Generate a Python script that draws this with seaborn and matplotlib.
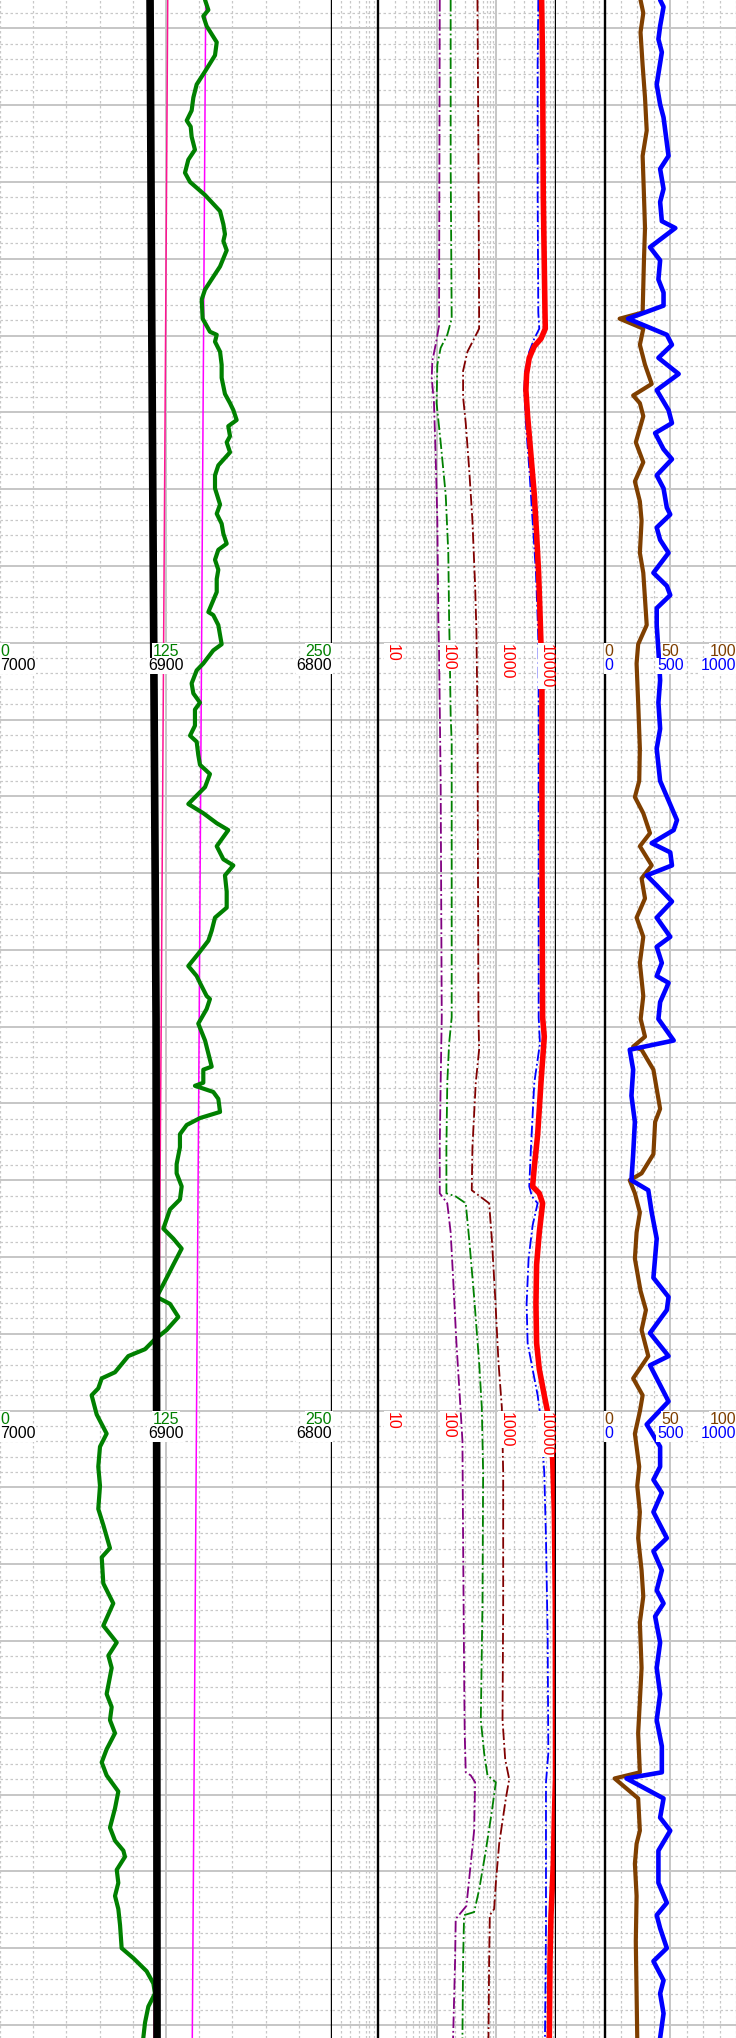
import matplotlib
matplotlib.use("Agg")
import matplotlib.pyplot as plt
import seaborn as sns
from matplotlib.ticker import MultipleLocator, FixedLocator, LogLocator, NullFormatter

sns.set_style("white")
plt.rcParams['font.family'] = ['Liberation Sans', 'DejaVu Sans']

# ---------------- depth window ----------------
DEPTH_TOP, DEPTH_BOT = 1006.3, 1271.7
SCALE_DEPTHS = [1090, 1190]

# ---------------- track 1 : GR (0-250), black curve (7000-6800), pink trends ----------------
gr = [(1006.3,154.4),(1007.6,156.9),(1008.4,153.1),(1009.7,155.6),(1011.8,163.2),(1013.5,161.9),(1015.6,154.4),
      (1017.3,148.1),(1019.0,145.6),(1020.7,144.3),(1022.0,140.6),(1022.8,143.6),(1024.1,144.3),(1025.8,146.8),
      (1027.1,141.8),(1028.8,139.3),(1030.0,143.1),(1031.7,154.4),(1033.8,165.7),(1035.5,168.2),(1036.8,169.4),
      (1037.7,168.2),(1038.9,170.7),(1041.0,165.7),(1044.0,154.4),(1045.3,151.9),(1047.8,152.6),(1049.5,158.1),
      (1049.9,163.2),(1050.8,161.9),(1052.1,165.7),(1053.8,166.9),(1055.5,166.9),(1057.6,169.4),(1058.8,173.2),
      (1059.7,175.7),(1061.0,178.2),(1061.8,171.9),(1063.1,173.2),(1063.9,170.7),(1065.2,173.2),(1066.9,164.4),
      (1068.2,161.9),(1069.9,161.9),(1072.0,165.7),(1073.2,163.2),(1074.5,166.9),(1075.8,168.2),(1077.1,170.7),
      (1077.9,164.4),(1079.2,161.9),(1080.5,164.4),(1081.7,163.2),(1083.4,163.2),(1086.0,156.9),(1086.4,160.6),
      (1087.7,164.4),(1090.2,166.9),(1091.0,160.6),(1092.7,153.1),(1093.6,148.1),(1095.3,144.3),(1096.6,145.6),
      (1097.8,150.6),(1098.7,146.8),(1100.8,146.8),(1102.1,143.1),(1102.9,148.1),(1104.6,149.3),(1105.9,150.6),
      (1107.1,158.1),(1108.8,154.4),(1111.0,141.8),(1112.2,153.1),(1113.5,163.2),(1114.4,171.9),(1116.5,163.2),
      (1118.2,168.2),(1119.0,175.7),(1120.3,169.4),(1122.4,170.7),(1124.5,170.7),(1125.8,161.9),(1127.5,159.4),
      (1128.8,156.9),(1130.5,149.3),(1132.1,141.8),(1133.4,148.1),(1134.3,150.6),(1136.0,155.6),(1136.4,158.1),
      (1137.7,155.6),(1139.2,150.6),(1139.6,149.3),(1141.8,154.4),(1143.5,156.9),(1145.2,159.4),(1145.6,153.1),
      (1147.3,153.1),(1147.7,146.8),(1148.5,160.6),(1149.4,164.4),(1151.1,165.7),(1151.9,150.6),(1152.8,140.6),
      (1154.0,135.5),(1155.7,135.5),(1157.9,133.0),(1159.1,133.0),(1160.8,136.8),(1162.5,135.5),(1163.8,128.0),
      (1166.3,123.0),(1167.6,130.5),(1168.9,136.8),(1171.0,130.5),(1172.7,125.5),(1175.2,118.0),(1176.1,128.0),
      (1177.8,134.3),(1179.5,125.5),(1180.7,116.7),(1182.0,109.2),(1182.9,96.6),(1185.0,86.6),(1185.8,76.6),
      (1187.1,74.0),(1188.0,69.0),(1190.5,72.8),(1193.0,80.3),(1194.7,75.3),(1197.3,74.0),(1199.8,75.3),
      (1202.8,74.0),(1204.9,77.8),(1207.9,82.8),(1209.1,76.6),(1212.5,77.8),(1215.1,85.3),(1218.0,77.8),
      (1220.2,87.9),(1221.9,81.6),(1223.5,84.1),(1226.9,80.3),(1228.6,84.1),(1230.3,82.8),(1232.0,86.6),
      (1234.1,80.3),(1235.8,76.6),(1237.5,80.3),(1239.6,89.1),(1241.8,86.6),(1244.3,82.8),(1246.0,86.6),
      (1247.3,92.9),(1248.1,94.1),(1249.8,87.9),(1251.5,89.1),(1253.2,86.6),(1254.9,89.1),(1257.0,90.4),
      (1260.0,91.6),(1261.3,100.4),(1263.0,110.4),(1264.6,115.5),(1265.9,116.7),(1267.6,111.7),(1269.7,109.2),
      (1271.7,107.9)]
black_curve = [(1006.3,6909.6),(1048.0,6908.6),(1090.0,6907.4),(1139.0,6906.0),(1200.0,6905.6),(1271.7,6905.4)]
pink_curve = [(1006.3,126.3),(1139.0,121.4),(1271.7,116.0)]
magenta_curve = [(1006.3,154.9),(1139.0,150.0),(1271.7,144.8)]

# ---------------- track 2 : resistivities (log 10-10000) ----------------
res_deep = [(1006.3,5840),(1014.8,6070),(1031.7,6220),(1047.0,6650),(1049.1,6730),(1050.4,5690),(1051.4,4390),
            (1052.9,3610),(1055.0,3260),(1057.1,3170),(1060.5,3390),(1065.6,3860),(1070.7,4390),(1075.8,4800),
            (1080.9,5190),(1086.0,5470),(1090.2,5690),(1095.3,5910),(1116.5,5910),(1138.8,6070),(1141.3,6470),
            (1147.3,5690),(1154.1,5000),(1158.3,4390),(1160.8,4110),(1161.7,5330),(1163.0,6070),(1166.8,5330),
            (1171.0,4800),(1176.1,4680),(1181.2,4800),(1184.6,5330),(1188.0,6470),(1191.3,7870),(1196.4,8960),
            (1203.2,9560),(1215.1,9930),(1232.0,10000),(1237.9,10000),(1243.0,9560),(1249.0,9190),(1255.7,8400),
            (1261.7,8070),(1271.7,7870)]
res_blue = [(1006.3,5130),(1014.8,5000),(1031.7,5000),(1047.0,5130),(1049.1,5330),(1050.4,4390),(1052.1,3610),
            (1054.6,3090),(1057.1,2970),(1061.4,3170),(1067.3,3610),(1074.1,4110),(1080.9,4680),(1086.8,5000),
            (1091.0,5190),(1108.0,5190),(1138.8,5200),(1142.2,5470),(1147.3,4390),(1155.7,3860),(1160.8,3610),
            (1162.1,4010),(1163.0,5000),(1165.9,4110),(1170.2,3520),(1176.1,3260),(1181.2,3390),(1184.6,4110),
            (1188.0,5000),(1191.3,5690),(1194.7,6070),(1198.1,6470),(1206.6,6910),(1219.3,7370),(1234.6,7570),
            (1238.4,6910),(1257.4,6910),(1271.7,6650)]
res_purple = [(1006.3,112),(1048.7,109),(1051.2,95.5),(1053.3,84),(1055.5,82),(1058.8,89.5),(1065.6,95.5),
              (1074.1,102),(1086.8,106),(1091.0,109),(1108.0,116),(1138.8,121),(1147.3,116),(1155.7,112),
              (1161.7,112),(1163.0,150),(1166.8,171),(1172.7,188),(1181.2,214),(1188.0,243),(1193.9,270),
              (1206.6,277),(1223.5,288),(1232.0,295),(1237.1,307),(1237.5,373),(1238.4,442),(1244.7,425),
              (1249.0,373),(1254.5,315),(1256.2,208),(1261.7,203),(1271.7,188)]
res_green = [(1006.3,171),(1027.5,171),(1047.8,178),(1049.9,150),(1051.6,116),(1053.8,102),(1058.8,99),
             (1063.9,116),(1070.7,141),(1078.3,156),(1086.8,161),(1091.0,165),(1099.5,171),(1102.9,178),
             (1138.8,178),(1142.2,161),(1147.3,150),(1155.7,145),(1161.7,145),(1162.1,208),(1163.0,307),
             (1167.6,350),(1175.2,425),(1183.7,516),(1189.6,573),(1198.1,603),(1215.1,588),(1230.3,551),
             (1234.6,627),(1237.5,714),(1238.4,987),(1242.2,845),(1247.3,669),(1252.4,516),(1255.3,425),
             (1255.7,288),(1261.7,277),(1271.7,270)]
res_maroon = [(1006.3,484),(1027.5,503),(1047.0,516),(1049.1,516),(1050.4,425),(1052.1,328),(1054.6,277),
              (1058.0,277),(1061.4,307),(1067.3,350),(1074.1,398),(1082.6,442),(1088.5,465),(1099.5,484),
              (1138.8,503),(1143.0,516),(1147.3,453),(1155.7,398),(1161.3,388),(1163.0,761),(1167.6,845),
              (1175.2,962),(1183.7,1094),(1189.6,1247),(1198.1,1313),(1215.1,1313),(1230.3,1280),(1235.4,1419),
              (1238.0,1659),(1240.5,1456),(1246.4,1124),(1251.5,987),(1254.9,925),(1255.7,781),(1261.7,761),
              (1271.7,742)]

# ---------------- track 3 : brown (0-100) and blue (0-1000) ----------------
brown = [(1006.3,27.4),(1008.0,29.5),(1010.5,27.4),(1014.8,29.0),(1019.0,30.8),(1023.3,32.1),(1026.6,29.0),
         (1031.7,30.0),(1036.0,30.8),(1040.2,30.0),(1043.6,29.5),(1047.0,29.0),(1047.8,11.5),(1049.1,29.5),
         (1051.2,26.9),(1053.8,30.8),(1056.3,35.9),(1057.8,21.8),(1058.8,26.9),(1060.5,29.5),(1063.9,23.8),
         (1066.5,29.5),(1069.0,23.1),(1071.6,26.9),(1074.1,28.2),(1078.3,26.9),(1080.9,29.5),(1084.3,30.8),
         (1087.7,32.1),(1090.2,25.6),(1092.7,24.4),(1097.8,25.6),(1103.8,26.9),(1108.0,26.4),(1110.1,23.1),
         (1112.2,29.5),(1114.8,34.6),(1116.5,26.9),(1119.0,35.9),(1120.7,28.2),(1123.3,30.8),(1125.8,24.4),
         (1128.3,29.5),(1131.7,26.9),(1136.0,29.5),(1139.0,27.5),(1141.3,30.8),(1142.6,21.8),(1143.0,28.2),
         (1145.6,37.2),(1148.1,39.7),(1150.7,42.3),(1152.4,38.5),(1156.6,37.2),(1159.1,28.2),(1160.0,19.2),
         (1161.7,23.1),(1164.2,26.9),(1166.8,24.4),(1170.2,23.1),(1174.4,27.4),(1176.9,31.5),(1179.5,28.2),
         (1182.9,33.3),(1185.8,21.8),(1188.0,29.0),(1190.1,26.9),(1193.0,23.1),(1197.3,26.4),(1199.8,24.9),
         (1203.2,26.9),(1206.6,25.6),(1210.8,28.2),(1214.2,29.5),(1217.6,26.9),(1223.5,28.2),(1227.8,26.9),
         (1232.0,25.6),(1237.1,26.9),(1237.9,7.7),(1240.5,25.6),(1244.7,26.9),(1246.4,24.4),(1249.0,23.1),
         (1253.2,24.4),(1259.1,23.8),(1265.9,24.4),(1271.7,24.9)]
blue = [(1006.3,423),(1007.2,449),(1009.7,423),(1011.4,410),(1013.1,436),(1017.3,397),(1019.9,423),(1021.6,449),
        (1024.9,474),(1026.6,487),(1028.3,423),(1030.9,449),(1032.6,423),(1035.1,436),(1036.0,538),(1038.5,346),
        (1040.2,423),(1042.7,410),(1044.4,449),(1046.1,449),(1047.8,179),(1049.9,474),(1051.2,513),(1052.9,410),
        (1055.0,564),(1057.1,397),(1059.7,487),(1061.4,513),(1062.7,385),(1064.8,449),(1066.1,513),(1068.2,397),
        (1069.9,449),(1072.4,474),(1073.3,500),(1075.0,397),(1076.6,423),(1078.3,487),(1080.9,372),(1082.6,474),
        (1083.8,500),(1085.5,397),(1087.7,397),(1091.0,410),(1094.9,423),(1097.8,410),(1101.2,423),(1103.8,397),
        (1108.0,423),(1113.1,551),(1114.4,526),(1116.1,359),(1117.3,500),(1119.0,513),(1120.3,321),(1121.6,397),
        (1123.7,513),(1125.8,397),(1128.3,500),(1129.6,397),(1131.7,436),(1133.4,397),(1134.3,487),(1136.8,423),
        (1139.0,410),(1141.8,526),(1143.0,192),(1145.6,218),(1149.0,205),(1152.4,231),(1156.6,218),(1160.0,205),
        (1161.3,333),(1164.2,359),(1167.6,397),(1172.7,372),(1175.2,487),(1176.9,474),(1179.9,346),(1182.9,487),
        (1184.1,346),(1188.8,487),(1191.8,321),(1194.7,423),(1197.3,423),(1199.0,372),(1200.7,436),(1203.2,372),
        (1206.6,474),(1208.3,372),(1210.8,436),(1213.4,397),(1215.1,449),(1216.8,385),(1220.2,423),(1223.5,397),
        (1226.9,423),(1230.3,397),(1233.7,436),(1237.1,436),(1237.9,167),(1240.5,449),(1243.0,423),(1244.7,500),
        (1247.3,410),(1251.5,410),(1254.1,474),(1255.7,397),(1257.4,423),(1260.0,474),(1261.7,372),(1264.2,449),
        (1265.9,423),(1268.5,449),(1271.7,423)]

# ---------------- scale labels ----------------
t1_top = [("0", 0, "left"), ("125", 125, "center"), ("250", 250, "right")]
t1_bot = [("7000", 7000, "left"), ("6900", 6900, "center"), ("6800", 6800, "right")]
t2_lab = [("10", 10, "left", 5.0), ("100", 100, "left", 2.5), ("1000", 1000, "left", 2.0), ("10000", 10000, "right", -1.5)]
t3_top = [("0", 0, "left"), ("50", 50, "center"), ("100", 100, "right")]
t3_bot = [("0", 0, "left"), ("500", 500, "center"), ("1000", 1000, "right")]

# ---------------- figure ----------------
W = 736.0
fig = plt.figure(figsize=(7.36, 20.38), dpi=100)

def add(x0, x1):
    return fig.add_axes([x0 / W, 0, (x1 - x0) / W, 1])

ax1 = add(0, 332)
g1 = add(332, 377.5)
ax2 = add(377.5, 555.5)
g2 = add(555.5, 604.5)
ax3 = add(604.5, 736)

MAJ = dict(color="#c6c6c6", lw=1.4, ls="-")
MIN = dict(color="#c8c8c8", lw=0.9, ls=(0, (2, 2)))

def base(ax):
    ax.set_ylim(DEPTH_BOT, DEPTH_TOP)
    ax.yaxis.set_major_locator(MultipleLocator(10))
    ax.yaxis.set_minor_locator(MultipleLocator(2))
    ax.grid(which="major", axis="both", **MAJ)
    ax.grid(which="minor", axis="both", **MIN)
    ax.tick_params(which="both", length=0, labelbottom=False, labelleft=False,
                   labeltop=False, labelright=False)
    ax.set_xlabel(""); ax.set_ylabel("")
    for s in ax.spines.values():
        s.set_visible(False)
    ax.set_axisbelow(True)

def twin_clean(ax):
    ax.tick_params(which="both", length=0, labeltop=False, labelbottom=False,
                   labelleft=False, labelright=False)
    ax.set_xlabel(""); ax.set_ylabel("")
    ax.grid(False)
    for s in ax.spines.values():
        s.set_visible(False)

def curve(ax, pts, **kw):
    d = [p[0] for p in pts]
    v = [p[1] for p in pts]
    sns.lineplot(x=v, y=d, ax=ax, orient="y", sort=False, estimator=None, **kw)

# ---- track 1
ax1.set_xlim(0, 250)
ax1.xaxis.set_major_locator(FixedLocator([125]))
ax1.xaxis.set_minor_locator(MultipleLocator(25))
base(ax1)
curve(ax1, pink_curve, color="#ff1493", lw=1.1)
curve(ax1, magenta_curve, color="#ff00ff", lw=1.1)
curve(ax1, gr, color="#008000", lw=3.0)
ax1.set_xlim(0, 250); ax1.set_ylim(DEPTH_BOT, DEPTH_TOP)
ax1b = ax1.twiny()
curve(ax1b, black_curve, color="black", lw=5.5)
ax1b.set_xlim(7000, 6800)
ax1b.set_ylim(DEPTH_BOT, DEPTH_TOP)
twin_clean(ax1b)
ax1.spines["right"].set_visible(True)
ax1.spines["right"].set_color("black")
ax1.spines["right"].set_linewidth(1.7)

# ---- spacer tracks (grid only)
for g, fr in ((g1, [0.19, 0.40, 0.60, 0.74, 0.82, 0.92]), (g2, [0.22, 0.56, 0.76, 0.89])):
    g.set_xlim(0, 1)
    g.xaxis.set_major_locator(FixedLocator([]))
    g.xaxis.set_minor_locator(FixedLocator(fr))
    base(g)

# ---- track 2
ax2.set_xscale("log")
ax2.set_xlim(10, 10000)
ax2.xaxis.set_major_locator(LogLocator(base=10, numticks=10))
ax2.xaxis.set_minor_locator(LogLocator(base=10, subs=[2, 3, 4, 5, 6, 7, 8, 9], numticks=40))
ax2.xaxis.set_minor_formatter(NullFormatter())
base(ax2)
curve(ax2, res_purple, color="#800080", lw=1.3, ls="-.")
curve(ax2, res_green, color="#008000", lw=1.3, ls="-.")
curve(ax2, res_maroon, color="#800000", lw=1.3, ls="-.")
curve(ax2, res_blue, color="#0000ff", lw=1.3, ls="-.")
curve(ax2, res_deep, color="#ff0000", lw=4.0)
ax2.set_xlim(10, 10000); ax2.set_ylim(DEPTH_BOT, DEPTH_TOP)
for side in ("left", "right"):
    ax2.spines[side].set_visible(True)
    ax2.spines[side].set_color("black")
    ax2.spines[side].set_linewidth(1.7)

# ---- track 3
ax3.set_xlim(0, 100)
ax3.xaxis.set_major_locator(FixedLocator([50]))
ax3.xaxis.set_minor_locator(MultipleLocator(12.5))
base(ax3)
curve(ax3, brown, color="#7f3f00", lw=3.0)
ax3.set_xlim(0, 100); ax3.set_ylim(DEPTH_BOT, DEPTH_TOP)
ax3b = ax3.twiny()
curve(ax3b, blue, color="#0000ff", lw=3.3)
ax3b.set_xlim(0, 1000); ax3b.set_ylim(DEPTH_BOT, DEPTH_TOP)
twin_clean(ax3b)
ax3.spines["left"].set_visible(True)
ax3.spines["left"].set_color("black")
ax3.spines["left"].set_linewidth(1.7)

# ---------------- repeated scale headers ----------------
FS = 11.5
box = dict(facecolor="white", edgecolor="none", pad=0.6)
for dep in SCALE_DEPTHS:
    y1, y2 = dep + 0.15, dep + 2.05
    for s, x, ha in t1_top:
        ax1b.text(x, y1, s, transform=ax1.transData, color="#008000", fontsize=FS,
                  ha=ha, va="top", bbox=box, zorder=10, clip_on=False)
    for s, x, ha in t1_bot:
        ax1b.text(x, y2, s, color="black", fontsize=FS, ha=ha, va="top",
                  bbox=box, zorder=10, clip_on=False)
    for s, x, ha, off in t2_lab:
        ax2.annotate(s, xy=(x, dep + 0.15), xytext=(off, 0), textcoords="offset points",
                     rotation=270, color="red", fontsize=FS, ha=ha, va="top",
                     bbox=box, zorder=10, annotation_clip=False)
    for s, x, ha in t3_top:
        ax3b.text(x, y1, s, transform=ax3.transData, color="#7f3f00", fontsize=FS,
                  ha=ha, va="top", bbox=box, zorder=10, clip_on=False)
    for s, x, ha in t3_bot:
        ax3b.text(x, y2, s, color="#0000ff", fontsize=FS, ha=ha, va="top",
                  bbox=box, zorder=10, clip_on=False)

fig.savefig("out.png", dpi=100)
